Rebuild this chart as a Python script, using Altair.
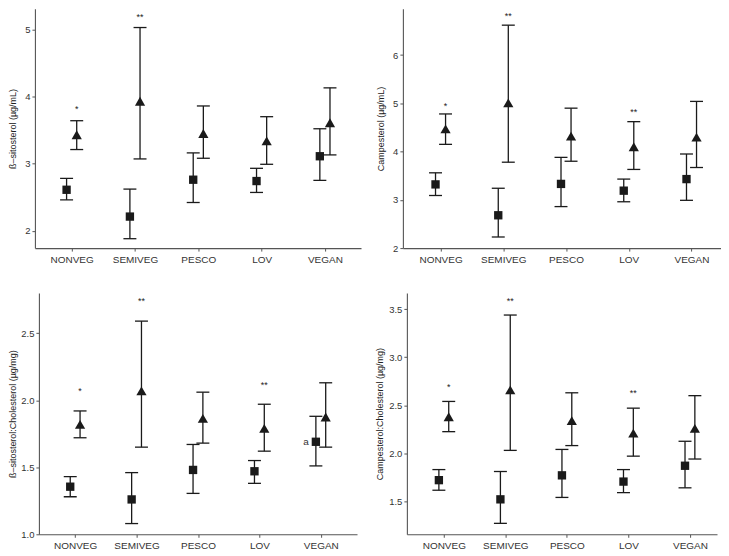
import altair as alt
import pandas as pd

categories = ["NONVEG", "SEMIVEG", "PESCO", "LOV", "VEGAN"]

# Panel 1: ß-sitosterol (µg/mL)
p1_sq_mean = [2.61, 2.21, 2.76, 2.74, 3.11]
p1_sq_lo = [2.46, 1.88, 2.42, 2.57, 2.75]
p1_sq_hi = [2.78, 2.62, 3.16, 2.93, 3.52]
p1_tri_mean = [3.43, 3.93, 3.45, 3.34, 3.61]
p1_tri_lo = [3.21, 3.07, 3.08, 2.99, 3.13]
p1_tri_hi = [3.64, 5.03, 3.86, 3.70, 4.13]
p1_star_cat = ["NONVEG", "SEMIVEG"]
p1_star_text = ["*", "**"]
p1_star_y = [3.81, 5.19]

# Panel 2: Campesterol (µg/mL)
p2_sq_mean = [3.32, 2.68, 3.33, 3.19, 3.43]
p2_sq_lo = [3.09, 2.23, 2.86, 2.96, 2.99]
p2_sq_hi = [3.56, 3.24, 3.88, 3.43, 3.95]
p2_tri_mean = [4.47, 5.01, 4.32, 4.10, 4.30]
p2_tri_lo = [4.15, 3.78, 3.80, 3.63, 3.67]
p2_tri_hi = [4.78, 6.62, 4.90, 4.62, 5.04]
p2_star_cat = ["NONVEG", "SEMIVEG", "LOV"]
p2_star_text = ["*", "**", "**"]
p2_star_y = [4.95, 6.80, 4.81]

# Panel 3: ß-sitosterol:Cholesterol (µg/mg)
p3_sq_mean = [1.355, 1.26, 1.48, 1.47, 1.69]
p3_sq_lo = [1.28, 1.08, 1.305, 1.38, 1.51]
p3_sq_hi = [1.43, 1.46, 1.67, 1.55, 1.88]
p3_tri_mean = [1.82, 2.07, 1.865, 1.79, 1.875]
p3_tri_lo = [1.72, 1.65, 1.68, 1.62, 1.65]
p3_tri_hi = [1.92, 2.59, 2.06, 1.97, 2.13]
p3_star_cat = ["NONVEG", "SEMIVEG", "LOV"]
p3_star_text = ["*", "**", "**"]
p3_star_y = [2.07, 2.74, 2.11]

# Panel 4: Campesterol:Cholesterol (µg/mg)
p4_sq_mean = [1.72, 1.52, 1.77, 1.705, 1.87]
p4_sq_lo = [1.615, 1.27, 1.54, 1.59, 1.64]
p4_sq_hi = [1.83, 1.81, 2.04, 1.83, 2.125]
p4_tri_mean = [2.38, 2.66, 2.34, 2.21, 2.26]
p4_tri_lo = [2.225, 2.03, 2.08, 1.97, 1.94]
p4_tri_hi = [2.54, 3.44, 2.63, 2.47, 2.60]
p4_star_cat = ["NONVEG", "SEMIVEG", "LOV"]
p4_star_text = ["*", "**", "**"]
p4_star_y = [2.69, 3.59, 2.625]

INK = "#1a1a1a"
label_expr = "[" + ",".join("'%s'" % c for c in categories) + "][datum.value - 1]"


def panel(title, sq, tri, star_cat, star_text, star_y, ydom, yticks, fmt,
          xdom, w, h, tp, note=None):
    rows = []
    for i, c in enumerate(categories):
        rows.append(dict(cat=c, idx=i + 1, grp="sq", mean=sq[0][i], lo=sq[1][i], hi=sq[2][i]))
        rows.append(dict(cat=c, idx=i + 1, grp="tri", mean=tri[0][i], lo=tri[1][i], hi=tri[2][i]))
    df = pd.DataFrame(rows)
    sdf = pd.DataFrame(dict(cat=star_cat, txt=star_text, y=star_y,
                            idx=[categories.index(c) + 1 for c in star_cat]))

    xscale = alt.Scale(domain=xdom, nice=False, zero=False)
    xaxis = alt.Axis(values=[1, 2, 3, 4, 5], labelExpr=label_expr, title=None,
                     grid=False, tickSize=3, labelFontSize=10, labelPadding=3)
    yscale = alt.Scale(domain=ydom, nice=False, zero=False)
    yaxis = alt.Axis(values=yticks, format=fmt, title=title, grid=False, tickSize=3,
                     labelFontSize=9.5, labelPadding=2, titlePadding=tp,
                     titleFontSize=9, titleFontWeight="normal")
    X = alt.X("xpos:Q", scale=xscale, axis=xaxis)

    base = alt.Chart(df).transform_calculate(
        xpos="datum.idx + (datum.grp == 'sq' ? -0.08 : 0.08)")

    rules = base.mark_rule(strokeWidth=1.3, color=INK).encode(
        x=X, y=alt.Y("lo:Q", scale=yscale, axis=yaxis), y2="hi:Q")
    cap_lo = base.mark_tick(orient="horizontal", size=13, thickness=1.3, color=INK,
                            opacity=1).encode(
        x=X, y=alt.Y("lo:Q", scale=yscale, axis=yaxis))
    cap_hi = base.mark_tick(orient="horizontal", size=13, thickness=1.3, color=INK,
                            opacity=1).encode(
        x=X, y=alt.Y("hi:Q", scale=yscale, axis=yaxis))
    pts = base.mark_point(filled=True, opacity=1, color=INK).encode(
        x=X, y=alt.Y("mean:Q", scale=yscale, axis=yaxis),
        shape=alt.Shape("grp:N", scale=alt.Scale(domain=["sq", "tri"],
                                                  range=["square", "triangle-up"]), legend=None),
        size=alt.Size("grp:N", scale=alt.Scale(domain=["sq", "tri"], range=[70, 105]),
                      legend=None))
    stars = alt.Chart(sdf).transform_calculate(xpos="datum.idx + 0.08").mark_text(
        fontSize=9, baseline="middle", color="#222").encode(
        x=X, y=alt.Y("y:Q", scale=yscale, axis=yaxis), text="txt:N")
    layers = [rules, cap_lo, cap_hi, pts, stars]
    if note is not None:
        ndf = pd.DataFrame(dict(idx=[categories.index(note[0]) + 1], y=[note[1]], txt=[note[2]]))
        layers.append(alt.Chart(ndf).transform_calculate(xpos="datum.idx - 0.08").mark_text(
            fontSize=10, align="right", baseline="middle", dx=-7, color="#333").encode(
            x=X, y=alt.Y("y:Q", scale=yscale, axis=yaxis), text="txt:N"))
    return alt.layer(*layers).properties(width=w, height=h)


p1 = panel("ß–sitosterol (µg/mL)",
           (p1_sq_mean, p1_sq_lo, p1_sq_hi), (p1_tri_mean, p1_tri_lo, p1_tri_hi),
           p1_star_cat, p1_star_text, p1_star_y,
           [1.74, 5.31], [2, 3, 4, 5], "d", [0.42, 5.57], 327, 240, 7)
p2 = panel("Campesterol (µg/mL)",
           (p2_sq_mean, p2_sq_lo, p2_sq_hi), (p2_tri_mean, p2_tri_lo, p2_tri_hi),
           p2_star_cat, p2_star_text, p2_star_y,
           [2.0, 6.96], [2, 3, 4, 5, 6], "d", [0.40, 5.47], 319, 240, 7)
p3 = panel("ß–sitosterol:Cholesterol (µg/mg)",
           (p3_sq_mean, p3_sq_lo, p3_sq_hi), (p3_tri_mean, p3_tri_lo, p3_tri_hi),
           p3_star_cat, p3_star_text, p3_star_y,
           [1.0, 2.80], [1.0, 1.5, 2.0, 2.5], ".1f", [0.41, 5.59], 319, 242, 3,
           note=("VEGAN", 1.69, "a"))
p4 = panel("Campesterol:Cholesterol (µg/mg)",
           (p4_sq_mean, p4_sq_lo, p4_sq_hi), (p4_tri_mean, p4_tri_lo, p4_tri_hi),
           p4_star_cat, p4_star_text, p4_star_y,
           [1.156, 3.67], [1.5, 2.0, 2.5, 3.0, 3.5], ".1f", [0.40, 5.44], 311, 242, 4)

col1 = alt.vconcat(p1, p3, spacing=29, center=True)
col2 = alt.vconcat(p2, p4, spacing=29, center=True)
chart = alt.hconcat(col1, col2, spacing=14).properties(padding=0).configure_view(
    stroke=None).configure_axis(
    domainColor="#555", domainWidth=1.1, tickColor="#555", tickWidth=1,
    labelColor="#333", titleColor="#222",
    labelFont="Liberation Sans", titleFont="Liberation Sans").configure_text(
    font="Liberation Sans")

chart.save("out.html", embed_options={"renderer": "svg", "actions": False})
